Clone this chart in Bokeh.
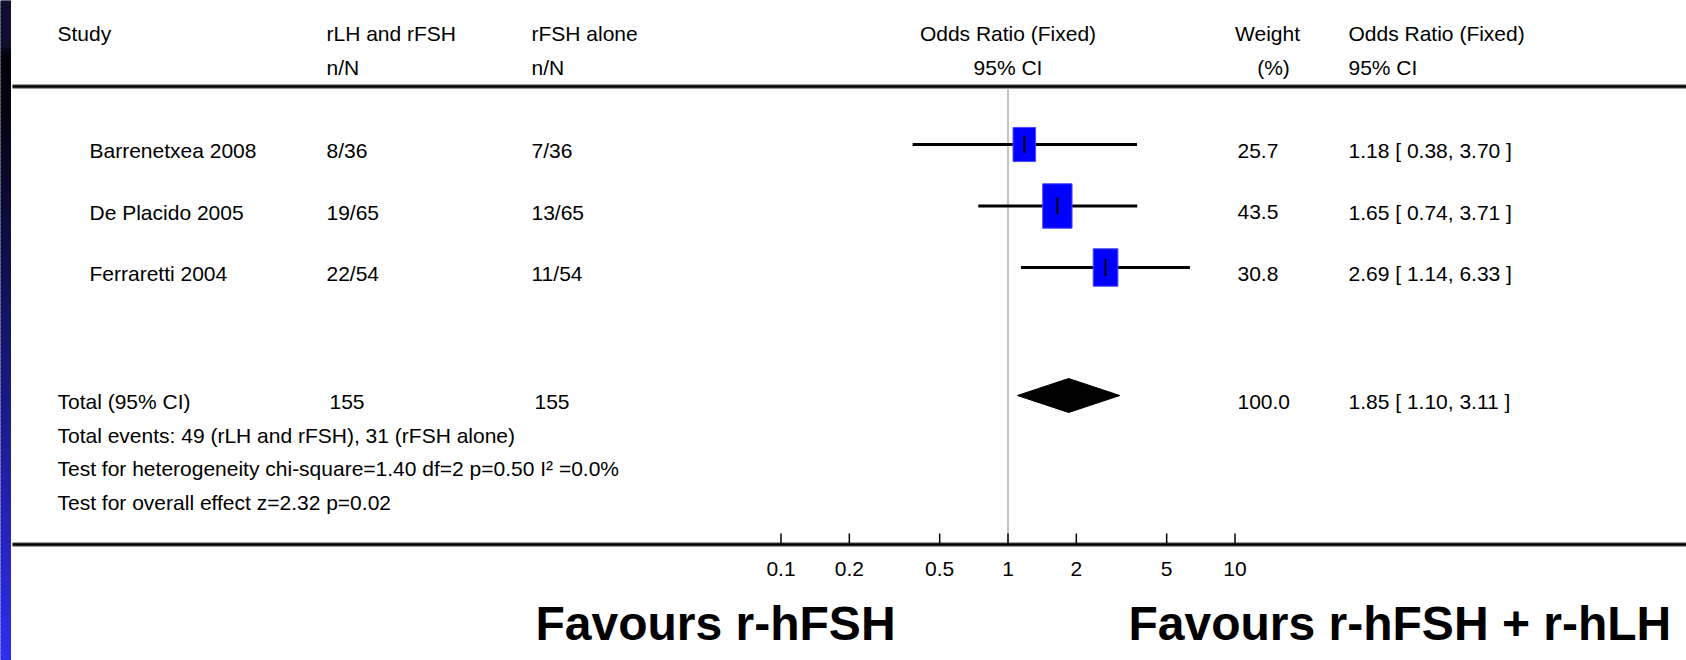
from bokeh.plotting import figure
from bokeh.models import Range1d, LogScale
from bokeh.core.properties import value
from bokeh.embed import file_html
from bokeh.resources import INLINE
import math

# ---------------- data ----------------
studies = ["Barrenetxea 2008", "De Placido 2005", "Ferraretti 2004"]
events_lh = ["8/36", "19/65", "22/54"]
events_fsh = ["7/36", "13/65", "11/54"]
odds_ratio = [1.18, 1.65, 2.69]
ci_low = [0.38, 0.74, 1.14]
ci_high = [3.70, 3.71, 6.33]
weights = [25.7, 43.5, 30.8]
total_or = 1.85
total_low = 1.10
total_high = 3.11
total_weight = 100.0
total_n_lh = 155
total_n_fsh = 155
tick_values = [0.1, 0.2, 0.5, 1, 2, 5, 10]
tick_labels = ["0.1", "0.2", "0.5", "1", "2", "5", "10"]
footnotes = [
    "Total events: 49 (rLH and rFSH), 31 (rFSH alone)",
    "Test for heterogeneity chi-square=1.40 df=2 p=0.50 I\u00b2 =0.0%",
    "Test for overall effect z=2.32  p=0.02",
]
favour_labels = ["Favours r-hFSH", "Favours r-hFSH + r-hLH"]

# ---------------- layout ----------------
W, H = 1686, 660
ONE_X = 1007.5      # pixel position of OR = 1
DECADE = 227.0      # pixels per decade
ROW0, PITCH = 144, 61.5
TOTAL_Y = 395
TXT_DY = 6
FOOT_Y0, FOOT_DY = 401, 33.5
HEAD_Y1, HEAD_Y2 = 33, 67
LINE_TOP, LINE_AXIS = 86, 544
FONT = "Liberation Sans"
FS = "21px"

COL_STUDY, COL_NAME, COL_LH, COL_FSH = 57, 89, 326, 531
COL_W, COL_CI = 1237, 1348

p = figure(width=W, height=H, x_range=Range1d(0, W), y_range=Range1d(H, 0),
           output_backend="svg", toolbar_location=None, min_border=0,
           x_axis_location=None, y_axis_location=None,
           outline_line_color=None, background_fill_color="white",
           border_fill_color="white")
p.grid.visible = False
p.extra_x_ranges = {"or": Range1d(10 ** ((0 - ONE_X) / DECADE), 10 ** ((W - ONE_X) / DECADE))}
p.extra_x_scales = {"or": LogScale()}

# slide background strip (gradient)
def strip_color(y):
    stops = [(0, (14, 14, 46)), (45, (14, 14, 46)), (55, (1, 1, 10)), (112, (3, 3, 16)), (660, (46, 46, 238))]
    for (y0, c0), (y1, c1) in zip(stops[:-1], stops[1:]):
        if y0 <= y <= y1:
            t = 0 if y1 == y0 else (y - y0) / (y1 - y0)
            return "#%02x%02x%02x" % tuple(int(round(a + (b - a) * t)) for a, b in zip(c0, c1))
    return "#2e2eee"

step = 4
tops = list(range(0, H, step))
cols = [strip_color(t + step / 2) for t in tops]
p.quad(left=0, right=10, top=tops, bottom=[t + step for t in tops],
       fill_color=cols, line_color=cols, line_width=1)

# header and axis rules (double line look)
for y in (LINE_TOP, LINE_AXIS):
    p.segment(x0=12, y0=y, x1=W, y1=y, line_color="#9c9c9c", line_width=5)
    p.segment(x0=12, y0=y, x1=W, y1=y, line_color="black", line_width=2.6)

# line of no effect
p.segment(x0=[1], y0=[LINE_TOP + 2], x1=[1], y1=[LINE_AXIS - 2], x_range_name="or",
          line_color="#c4c4c4", line_width=2)

row_y = [ROW0 + i * PITCH for i in range(len(studies))]

# confidence intervals
p.segment(x0=ci_low, y0=row_y, x1=ci_high, y1=row_y, x_range_name="or",
          line_color="black", line_width=3.2)

# weight boxes: area proportional to weight
box_h = [math.sqrt(30.0 * w / 0.66) for w in weights]
box_w = [0.66 * h for h in box_h]
p.rect(x=odds_ratio, y=row_y, width=box_w, height=box_h, width_units="screen",
       height_units="screen", x_range_name="or", fill_color="#0000ff",
       line_color="#4a4aff", line_width=1)
p.segment(x0=odds_ratio, y0=[y - 8.5 for y in row_y], x1=odds_ratio,
          y1=[y + 8.5 for y in row_y], x_range_name="or", line_color="black", line_width=2)

# pooled diamond
p.patch(x=[total_low, total_or, total_high, total_or],
        y=[TOTAL_Y, TOTAL_Y - 17, TOTAL_Y, TOTAL_Y + 17],
        x_range_name="or", fill_color="black", line_color="black", line_width=1)

# axis ticks and labels
p.segment(x0=tick_values, y0=LINE_AXIS - 11, x1=tick_values, y1=LINE_AXIS,
          x_range_name="or", line_color="black", line_width=1.5)
p.text(x=tick_values, y=568, text=tick_labels, x_range_name="or",
       text_font=value(FONT), text_font_size=FS, text_align="center",
       text_baseline="middle", text_color="black")

def txt(xs, ys, texts, align="left"):
    p.text(x=xs, y=ys, text=texts, text_font=value(FONT), text_font_size=FS,
           text_align=align, text_baseline="middle", text_color="black")

# header
txt([COL_STUDY, COL_LH, COL_FSH, COL_CI], [HEAD_Y1] * 4,
    ["Study", "rLH and rFSH", "rFSH alone", "Odds Ratio (Fixed)"])
txt([COL_LH, COL_FSH, COL_CI], [HEAD_Y2] * 3, ["n/N", "n/N", "95% CI"])
txt([ONE_X, 1267], [HEAD_Y1] * 2, ["Odds Ratio (Fixed)", "Weight"], align="center")
txt([ONE_X, 1273], [HEAD_Y2] * 2, ["95% CI", "(%)"], align="center")

# study rows
ty = [y + TXT_DY for y in row_y]
ci_text = ["%.2f [ %.2f, %.2f ]" % (o, l, h) for o, l, h in zip(odds_ratio, ci_low, ci_high)]
txt([COL_NAME] * 3, ty, studies)
txt([COL_LH] * 3, ty, events_lh)
txt([COL_FSH] * 3, ty, events_fsh)
txt([COL_W] * 3, ty, ["%.1f" % w for w in weights])
txt([COL_CI] * 3, ty, ci_text)

# total row
txt([COL_STUDY, COL_LH + 3, COL_FSH + 3, COL_W, COL_CI], [FOOT_Y0] * 5,
    ["Total (95% CI)", str(total_n_lh), str(total_n_fsh), "%.1f" % total_weight,
     "%.2f [ %.2f, %.2f ]" % (total_or, total_low, total_high)])
txt([COL_STUDY] * 3, [FOOT_Y0 + FOOT_DY * (i + 1) for i in range(3)], footnotes)

# big "favours" labels
p.text(x=[535, 1128], y=[623, 623], text=favour_labels,
       text_font=value(FONT), text_font_style="bold",
       text_font_size="48px", text_align="left", text_baseline="middle",
       text_color="black")

open("out.html", "w").write(file_html(p, INLINE))
